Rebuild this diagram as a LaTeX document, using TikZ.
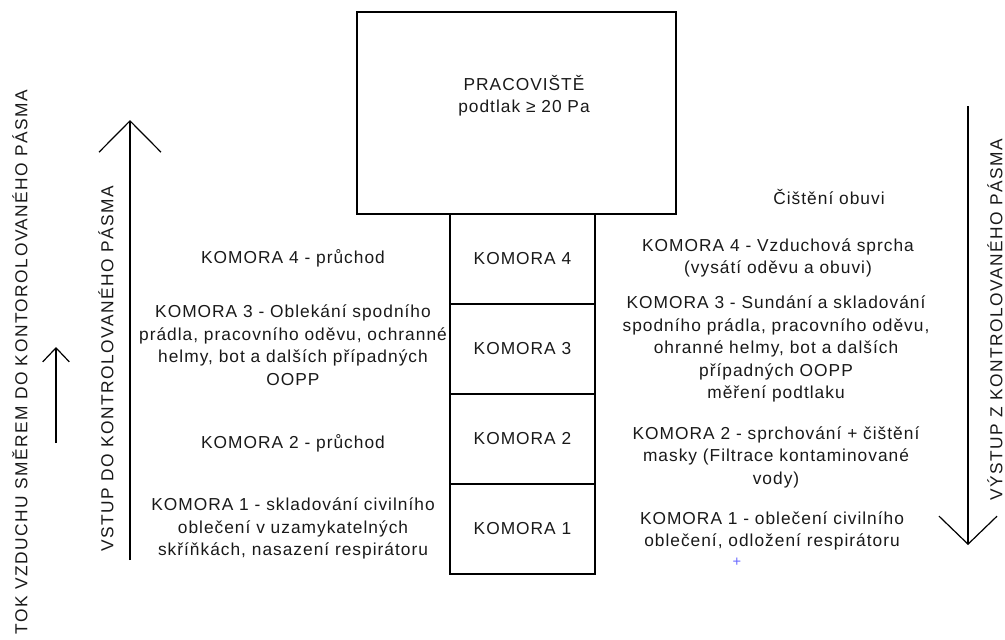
\documentclass[tikz,border=0pt]{standalone}
\usepackage{fontspec}
\setmainfont{Liberation Sans}[LetterSpace=5.8]
\newfontfamily\rotfont{Liberation Sans}[LetterSpace=8.7]
\usetikzlibrary{arrows.meta}
\begin{document}
\begin{tikzpicture}[x=0.75pt,y=-0.75pt,
  every node/.style={font=\fontsize{13}{16.9}\selectfont, text=black!90},
  txt/.style={align=center, inner sep=0pt},
  bigbox/.style={draw, line width=0.9pt, inner sep=0pt, minimum width=239.25pt, minimum height=151.5pt},
  komst/.style={draw, line width=0.9pt, inner sep=0pt, minimum width=108.75pt, minimum height=67.5pt},
  rot/.style={rotate=90, inner sep=0pt, font=\rotfont\fontsize{13}{16}\selectfont},
  arr/.style={line width=0.9pt}]
\useasboundingbox (0,0) rectangle (1005,639);

% main workplace box
\node[bigbox] (prac) at (516.5,113) {};
\node[txt] (pract) at (524,95.5) {PRACOVIŠTĚ\\podtlak ≥ 20 Pa};

% chamber stack
\node[komst] (k4) at (522.5,259) {KOMORA 4};
\node[komst] (k3) at (522.5,349) {KOMORA 3};
\node[komst] (k2) at (522.5,439) {KOMORA 2};
\node[komst] (k1) at (522.5,529) {KOMORA 1};

% left descriptions
\node[txt] (l4) at (293,258) {KOMORA 4 - průchod};
\node[txt] (l3) at (293,345) {KOMORA 3 - Oblekání spodního\\prádla, pracovního oděvu, ochranné\\helmy, bot a dalších případných\\OOPP};
\node[txt] (l2) at (293,443) {KOMORA 2 - průchod};
\node[txt] (l1) at (293,528.5) {KOMORA 1 - skladování civilního\\oblečení v uzamykatelných\\skříňkách, nasazení respirátoru};

% right descriptions
\node[txt] (cis) at (829,197) {Čištění obuvi};
\node[txt] (r4) at (778,258) {KOMORA 4 - Vzduchová sprcha\\(vysátí oděvu a obuvi)};
\node[txt] (r3) at (776,349) {KOMORA 3 - Sundání a skladování\\spodního prádla, pracovního oděvu,\\ohranné helmy, bot a dalších\\případných OOPP\\měření podtlaku};
\node[txt] (r2) at (776,457) {KOMORA 2 - sprchování + čištění\\masky (Filtrace kontaminované\\vody)};
\node[txt] (r1) at (772,531) {KOMORA 1 - oblečení civilního\\oblečení, odložení respirátoru};
\node[inner sep=0pt, text=blue!60!white, font=\fontsize{11}{11}\selectfont] (plus) at (737,562) {+};

% rotated labels
\node[rot] (outer) at (20,362) {TOK VZDUCHU SMĚREM DO KONTOROLOVANÉHO PÁSMA};
\node[rot] (vstup) at (106,369) {VSTUP DO KONTROLOVANÉHO PÁSMA};
\node[rot] (vystup) at (995,320) {VÝSTUP Z KONTROLOVANÉHO PÁSMA};

% arrows
\coordinate (va) at (130,560);
\coordinate (vb) at (130,120);
\draw[arr, -{Straight Barb[length=23.5pt,width=46.5pt]}] (va) -- (vb);
\coordinate (sa) at (56,443);
\coordinate (sb) at (56,347);
\draw[arr, -{Straight Barb[length=10.5pt,width=20pt]}] (sa) -- (sb);
\coordinate (ra) at (968,106);
\coordinate (rb) at (968,545);
\draw[arr, -{Straight Barb[length=21pt,width=43.5pt]}] (ra) -- (rb);
\end{tikzpicture}
\end{document}
